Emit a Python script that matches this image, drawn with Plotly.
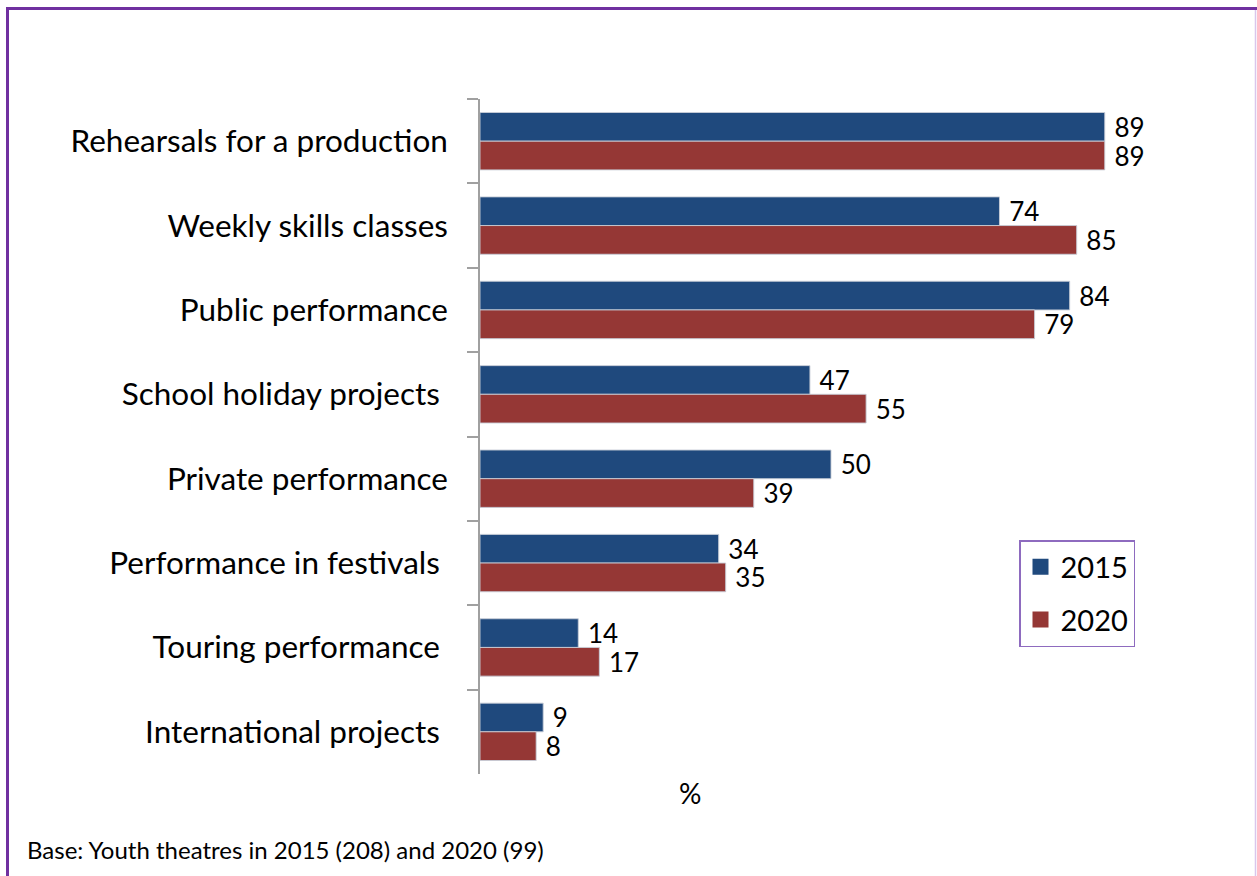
import plotly.graph_objects as go

categories = [
    "Rehearsals for a production",
    "Weekly skills classes",
    "Public performance",
    "School holiday projects\u00a0",
    "Private performance",
    "Performance in festivals\u00a0",
    "Touring performance\u00a0",
    "International projects\u00a0",
]
values_2015 = [89, 74, 84, 47, 50, 34, 14, 9]
values_2020 = [89, 85, 79, 55, 39, 35, 17, 8]
series_names = ["2015", "2020"]

BLUE = "#1F497D"
RED = "#953735"
PURPLE = "#7030A0"
FONT = "Lato"

W, H = 1257, 876
L, R, T, B = 480, 1257 - 1182, 99, 876 - 774


def px_x(x):
    return (x - L) / (W - L - R)


def px_y(y):
    return (H - B - y) / (H - T - B)


fig = go.Figure()
for name, vals, col in [(series_names[0], values_2015, BLUE), (series_names[1], values_2020, RED)]:
    fig.add_trace(go.Bar(
        y=categories, x=vals, name=name, orientation="h",
        marker=dict(color=col, line=dict(color="rgba(200,205,215,0.9)", width=1)),
        text=vals, texttemplate=" %{x}", textposition="outside",
        textfont=dict(size=26, color="black", family=FONT),
        constraintext="none",
        cliponaxis=False, showlegend=False,
    ))
    # legend entry with a bigger square swatch
    fig.add_trace(go.Scatter(
        x=[None], y=[None], mode="markers", name=name, legendgroup=name,
        marker=dict(symbol="square", size=18, color=col),
    ))

fig.update_layout(
    width=W, height=H,
    margin=dict(l=L, r=R, t=T, b=B),
    barmode="group", bargap=0.32, bargroupgap=0,
    plot_bgcolor="white", paper_bgcolor="white",
    font=dict(family=FONT, color="black"),
    showlegend=True,
    legend=dict(
        x=px_x(1019), y=px_y(540), xanchor="left", yanchor="top",
        bordercolor="#8E6BBF", borderwidth=1.5,
        font=dict(size=29, family=FONT),
        tracegroupgap=12, traceorder="grouped",
        itemwidth=30,
    ),
)
fig.update_xaxes(range=[0, 100], visible=False)
fig.update_yaxes(
    autorange="reversed",
    showline=True, linecolor="#A0A0A0", linewidth=1.5,
    ticks="outside", ticklen=11, tickcolor="#A0A0A0", tickwidth=1.5,
    tickson="boundaries",
    tickfont=dict(size=31.5, family=FONT, color="black"),
    ticklabelstandoff=24,
)

fig.add_annotation(
    text="%", x=px_x(690), y=px_y(793), xref="paper", yref="paper",
    xanchor="center", yanchor="middle",
    showarrow=False, font=dict(size=28, family=FONT),
)
fig.add_annotation(
    text="Base: Youth theatres in 2015 (208) and 2020 (99)",
    x=px_x(25), y=px_y(849), xref="paper", yref="paper",
    xanchor="left", yanchor="middle", showarrow=False, font=dict(size=24, family=FONT),
)

# purple frame around the whole picture
fig.add_shape(type="line", xref="paper", yref="paper",
              x0=px_x(7.5), x1=px_x(7.5), y0=px_y(7), y1=px_y(880),
              line=dict(color=PURPLE, width=3))
fig.add_shape(type="line", xref="paper", yref="paper",
              x0=px_x(6), x1=px_x(1260), y0=px_y(8.5), y1=px_y(8.5),
              line=dict(color=PURPLE, width=3))
fig.add_shape(type="line", xref="paper", yref="paper",
              x0=px_x(1255.5), x1=px_x(1255.5), y0=px_y(10), y1=px_y(880),
              line=dict(color="#D9C6EC", width=1.5))

fig.write_html("out.html", config={"displayModeBar": False},
               post_script="document.body.style.margin='0';")
